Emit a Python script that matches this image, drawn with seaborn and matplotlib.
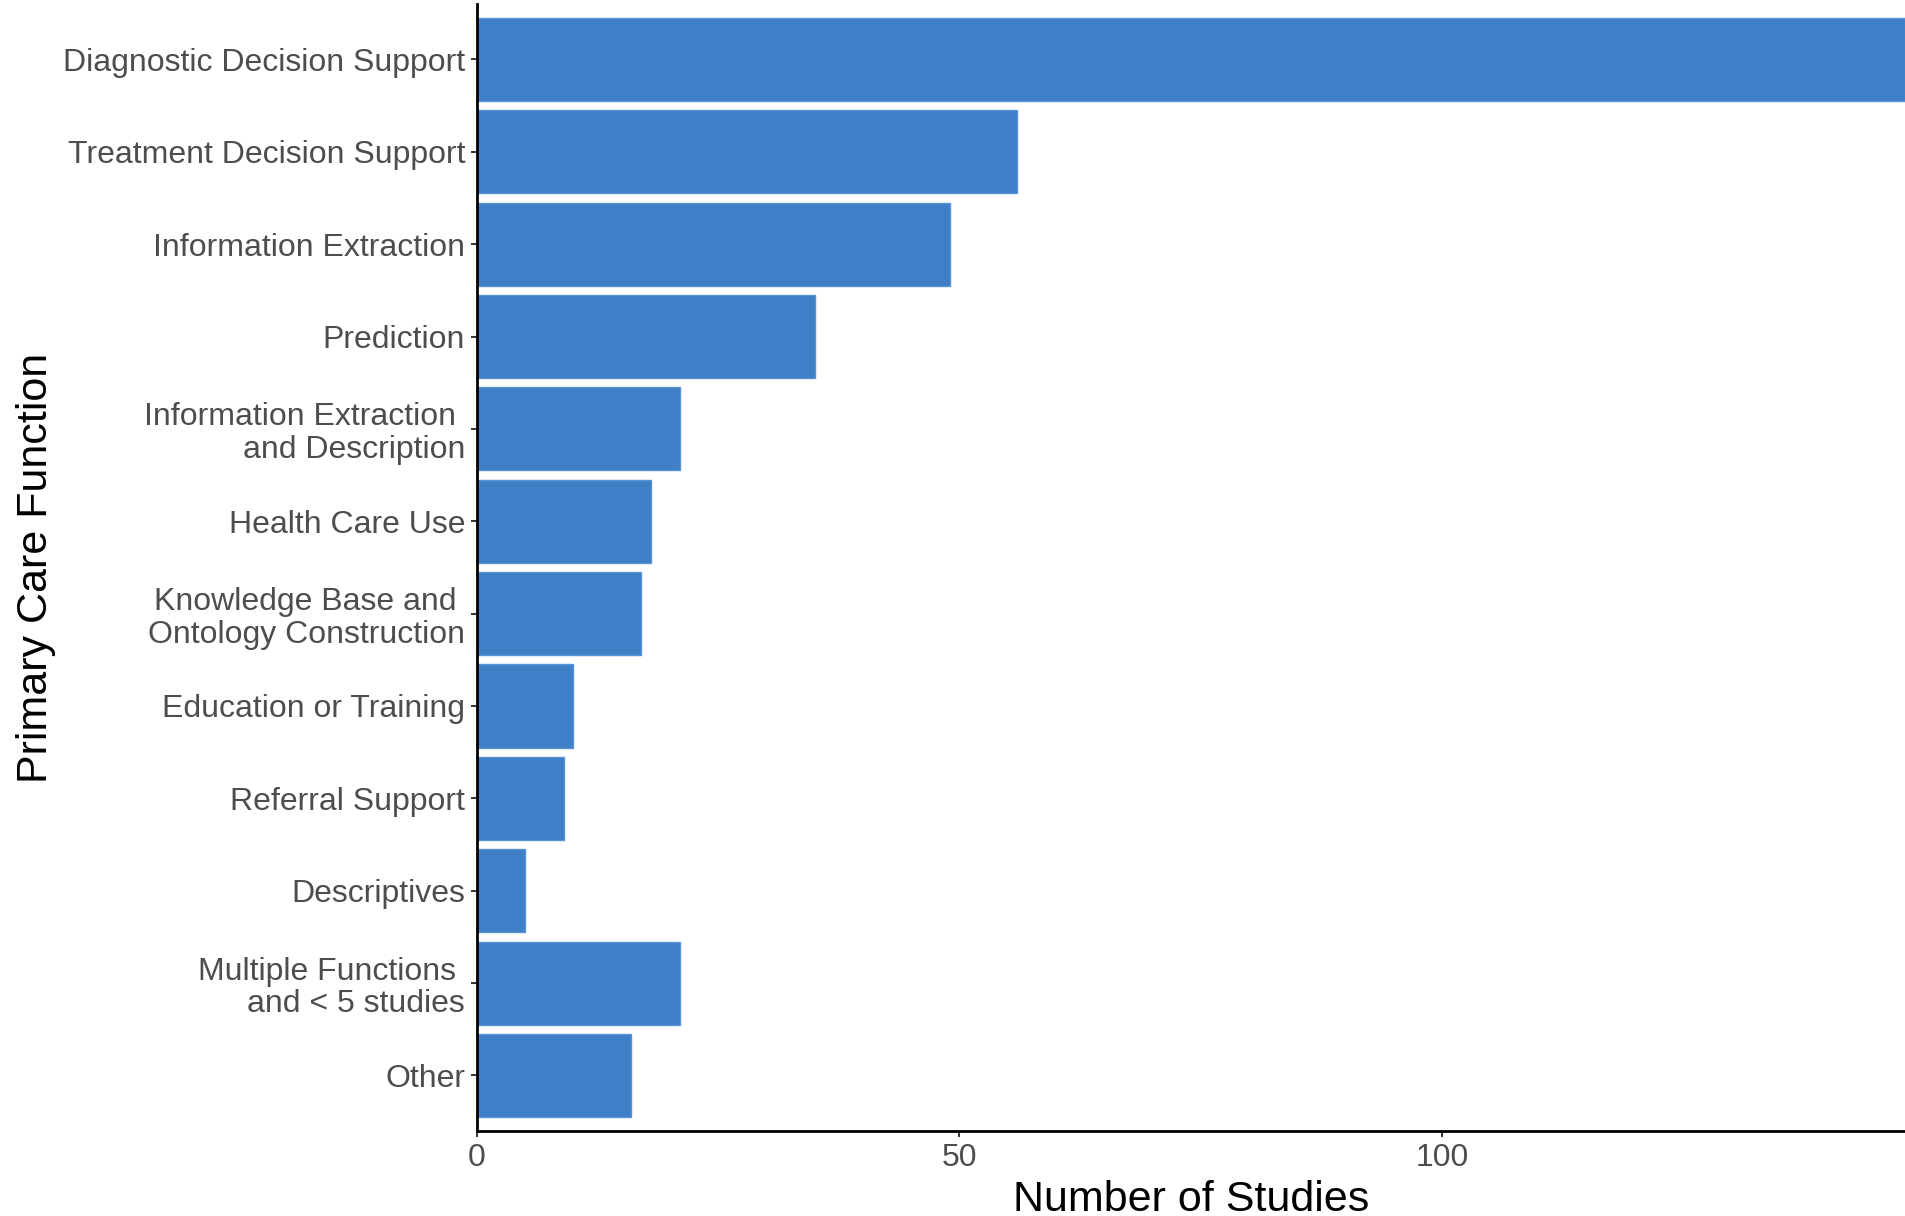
import pandas as pd
import numpy as np
import matplotlib.pyplot as plt
import seaborn as sns

functions = [
    'Diagnostic Decision Support',
    'Treatment Decision Support',
    'Information Extraction',
    'Prediction',
    'Information Extraction \nand Description',
    'Health Care Use',
    'Knowledge Base and \nOntology Construction',
    'Education or Training',
    'Referral Support',
    'Descriptives',
    'Multiple Functions \nand < 5 studies',
    'Other',
]
n_studies = [148, 56, 49, 35, 21, 18, 17, 10, 9, 5, 21, 16]
x_ticks = [0, 50, 100]

bar_color = '#3f7fc8'
text_grey = '#4d4d4d'

df = pd.DataFrame({'function': functions, 'studies': n_studies})

sns.set_style('white')
plt.rcParams['font.family'] = ['Liberation Sans', 'DejaVu Sans']

fig, ax = plt.subplots(figsize=(19.05, 12.16), dpi=100)
fig.subplots_adjust(left=0.2504, right=1.0, top=0.9967, bottom=0.07)

sns.barplot(
    data=df,
    x='studies',
    y='function',
    order=functions,
    color=bar_color,
    saturation=1,
    width=0.9,
    edgecolor='#5a92d2',
    linewidth=1,
    ax=ax
)

ax.set_xlim(0, max(n_studies))
ax.set_ylim(len(functions) - 1 + 0.6, -0.6)
ax.set_xticks(x_ticks)

for side in ['top', 'right']:
    ax.spines[side].set_visible(False)
for side in ['left', 'bottom']:
    ax.spines[side].set_linewidth(2.0)
    ax.spines[side].set_color('black')

ax.tick_params(axis='both', length=4.5, width=1.4, color='#333333',
               labelsize=23, labelcolor=text_grey, pad=4,
               left=True, bottom=True)
for lbl in ax.get_yticklabels():
    lbl.set_linespacing(1.12)

ax.set_xlabel('Number of Studies', size=31, color='black', labelpad=5)
ax.set_ylabel('Primary Care Function', size=31, color='black', labelpad=5)

fig.savefig('out.png', dpi=100, facecolor='white')
